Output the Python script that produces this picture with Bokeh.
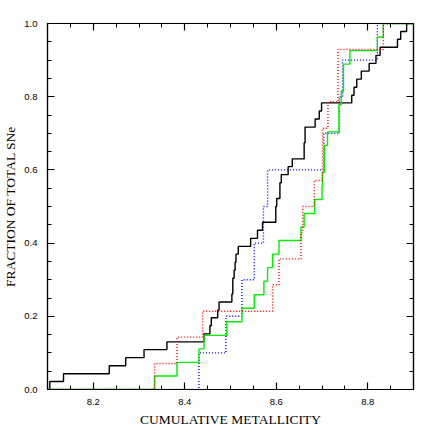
from bokeh.plotting import figure
from bokeh.models import (LinearAxis, SingleIntervalTicker, Range1d,
                          CustomJSTickFormatter, PrintfTickFormatter)
from bokeh.embed import file_html
from bokeh.resources import INLINE

# x: metallicity at each jump, y: cumulative fraction after the jump
black_x = [8.105, 8.135, 8.235, 8.271, 8.311, 8.361, 8.442, 8.455, 8.458, 8.472, 8.475,
           8.503, 8.505, 8.508, 8.510, 8.512, 8.517, 8.544, 8.559, 8.570, 8.599, 8.601,
           8.608, 8.611, 8.626, 8.635, 8.661, 8.663, 8.685, 8.694, 8.699, 8.765, 8.770,
           8.776, 8.786, 8.803, 8.818, 8.827, 8.865, 8.872, 8.885]
black_y = [0.022, 0.043, 0.065, 0.087, 0.109, 0.130, 0.152, 0.174, 0.196, 0.217, 0.239,
           0.261, 0.304, 0.326, 0.348, 0.370, 0.391, 0.413, 0.435, 0.457, 0.500, 0.522,
           0.565, 0.587, 0.609, 0.630, 0.674, 0.717, 0.739, 0.761, 0.783, 0.804, 0.826,
           0.848, 0.870, 0.891, 0.913, 0.935, 0.957, 0.978, 1.000]

green_x = [8.334, 8.383, 8.431, 8.442, 8.492, 8.525, 8.552, 8.573, 8.581, 8.592, 8.606,
           8.654, 8.661, 8.684, 8.700, 8.701, 8.705, 8.712, 8.737, 8.742, 8.747, 8.761,
           8.821, 8.834]
green_y = [0.037, 0.074, 0.111, 0.148, 0.185, 0.222, 0.259, 0.296, 0.333, 0.370, 0.407,
           0.444, 0.481, 0.519, 0.556, 0.593, 0.667, 0.704, 0.778, 0.815, 0.889, 0.926,
           0.963, 1.000]

red_x = [8.334, 8.383, 8.439, 8.592, 8.606, 8.654, 8.658, 8.683, 8.701, 8.713, 8.735, 8.834]
red_y = [0.071, 0.143, 0.214, 0.286, 0.357, 0.429, 0.500, 0.571, 0.714, 0.786, 0.929, 1.000]

blue_x = [8.431, 8.490, 8.525, 8.552, 8.572, 8.581, 8.704, 8.738, 8.745, 8.821]
blue_y = [0.1, 0.2, 0.3, 0.4, 0.5, 0.6, 0.7, 0.8, 0.9, 1.0]

x_min, x_max = 8.1, 8.9
x_label = "CUMULATIVE METALLICITY"
y_label = "FRACTION OF TOTAL SNe"

p = figure(frame_width=366, frame_height=366,
           x_range=Range1d(x_min, x_max), y_range=Range1d(0, 1),
           output_backend="svg", toolbar_location=None,
           min_border_left=39, min_border_right=15,
           min_border_top=23, min_border_bottom=36)
p.background_fill_color = "white"
p.border_fill_color = "white"
p.outline_line_color = "black"
p.outline_line_width = 1.2
p.xgrid.visible = False
p.ygrid.visible = False


def full(xs, ys):
    return [x_min] + list(xs) + [x_max], [0.0] + list(ys) + [ys[-1]]


bx, by = full(black_x, black_y)
p.step(bx, by, mode="after", line_color="black", line_width=1.4)
ux, uy = full(blue_x, blue_y)
p.step(ux, uy, mode="after", line_color="#0000ff", line_width=1.4, line_dash="1 2")
gx, gy = full(green_x, green_y)
p.step(gx, gy, mode="after", line_color="#00ee00", line_width=1.4)
rx, ry = full(red_x, red_y)
p.step(rx, ry, mode="after", line_color="#ff0000", line_width=1.4, line_dash="1 2")


def style(ax, labels=True):
    ax.major_tick_in = 7
    ax.major_tick_out = 0
    ax.minor_tick_in = 4
    ax.minor_tick_out = 0
    ax.axis_line_width = 1.2
    ax.major_tick_line_width = 1.2
    ax.minor_tick_line_width = 1.0
    ax.axis_line_color = "black"
    ax.major_tick_line_color = "black"
    ax.minor_tick_line_color = "black"
    if labels:
        ax.major_label_text_font = "Liberation Sans"
        ax.major_label_text_font_size = "9.5px"
        ax.major_label_text_color = "black"
        ax.axis_label_text_font = "Liberation Serif"
        ax.axis_label_text_font_size = "13.5px"
        ax.axis_label_text_font_style = "normal"
        ax.axis_label_text_color = "black"
        ax.formatter = PrintfTickFormatter(format="%.1f")
    else:
        ax.formatter = CustomJSTickFormatter(code="return ''")
        ax.major_label_text_font_size = "0px"
        ax.major_label_standoff = 0


p.xaxis.ticker = SingleIntervalTicker(interval=0.2, num_minor_ticks=4)
p.yaxis.ticker = SingleIntervalTicker(interval=0.2, num_minor_ticks=4)
p.xaxis.axis_label = x_label
p.yaxis.axis_label = y_label
style(p.xaxis[0])
style(p.yaxis[0])
p.xaxis[0].major_label_standoff = 9
p.xaxis[0].axis_label_standoff = 4
p.yaxis[0].major_label_standoff = 10
p.yaxis[0].axis_label_standoff = 3

top = LinearAxis(ticker=SingleIntervalTicker(interval=0.2, num_minor_ticks=4))
style(top, labels=False)
p.add_layout(top, "above")
right = LinearAxis(ticker=SingleIntervalTicker(interval=0.2, num_minor_ticks=4))
style(right, labels=False)
p.add_layout(right, "right")

open("out.html", "w").write(file_html(p, INLINE))
